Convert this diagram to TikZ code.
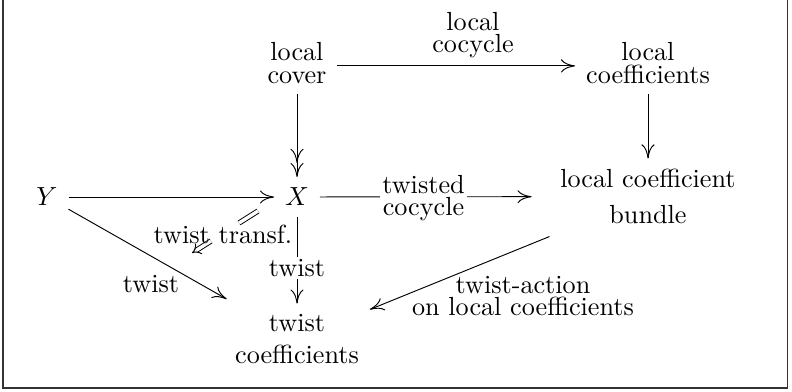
\documentclass[tikz,border=0pt]{standalone}
\usetikzlibrary{arrows.meta}
\begin{document}
\begin{tikzpicture}[x=0.382pt,y=-0.382pt,
  every node/.style={inner sep=4pt, align=center},
  arr/.style={-{To[length=5.4pt,width=5pt]}, line width=0.36pt},
  arrtwo/.style={-{To[length=5.4pt,width=5pt]To[length=5.4pt,width=5pt]}, line width=0.36pt},
  brk/.style={fill=white, inner sep=1pt},
  frame/.style={line width=0.5pt, draw=black!80}]
\useasboundingbox (0,0) rectangle (792,391);
\draw[frame] (3,0) -- (3,388) -- (787.5,388) -- (787.5,0);
% objects
\node (lcov) at (297,63) {local\\[-3.4pt]cover};
\node (lcoef) at (648,63) {local\\[-3.4pt]coefficients};
\node (X) at (297,197) {$X$};
\node (Y) at (47,197) {$Y$};
\node (bun) at (648,196.5) {local coefficient\\[1.5pt]bundle};
\node (tc) at (297,339) {twist\\coefficients};
% arrows
\draw[arr] ([yshift=-1.1pt]lcov.east) -- ([yshift=-1.1pt]lcoef.west);
\node (lcoc) at (473,35) {local\\[-3.4pt]cocycle};
\draw[arrtwo] (lcov) -- (X);
\draw[arr] (lcoef) -- (bun);
\draw[arr] (Y) -- (X);
\draw[arr, shorten >=6.8pt] (X) -- (bun);
\node[brk] (ltc) at (423.5,198) {twisted\\[-3.4pt]cocycle};
\draw[arr] (X) -- (tc);
\node[brk] (lxt) at (297,268) {twist};
\draw[arr, shorten >=3.5pt] (Y) -- (tc);
\node (lyt) at (151,284) {twist};
\draw[arr, shorten <=2pt] (bun) -- (tc);
\node (lta) at (523,296) {twist-action\\[-3.4pt]on local coefficients};
% 2-cell
\coordinate (tt1) at (258,211);
\coordinate (tt1b) at (239,223);
\coordinate (tt2a) at (211,241);
\coordinate (tt2) at (192,253);
\draw[double, double distance=1.3pt, line width=0.36pt] (tt1) -- (tt1b);
\draw[double, double distance=1.3pt, line width=0.36pt, -{Implies[scale=1.9]}] (tt2a) -- (tt2);
\node[inner sep=1pt] (ltt) at (223,234) {twist transf.};
\end{tikzpicture}
\end{document}
